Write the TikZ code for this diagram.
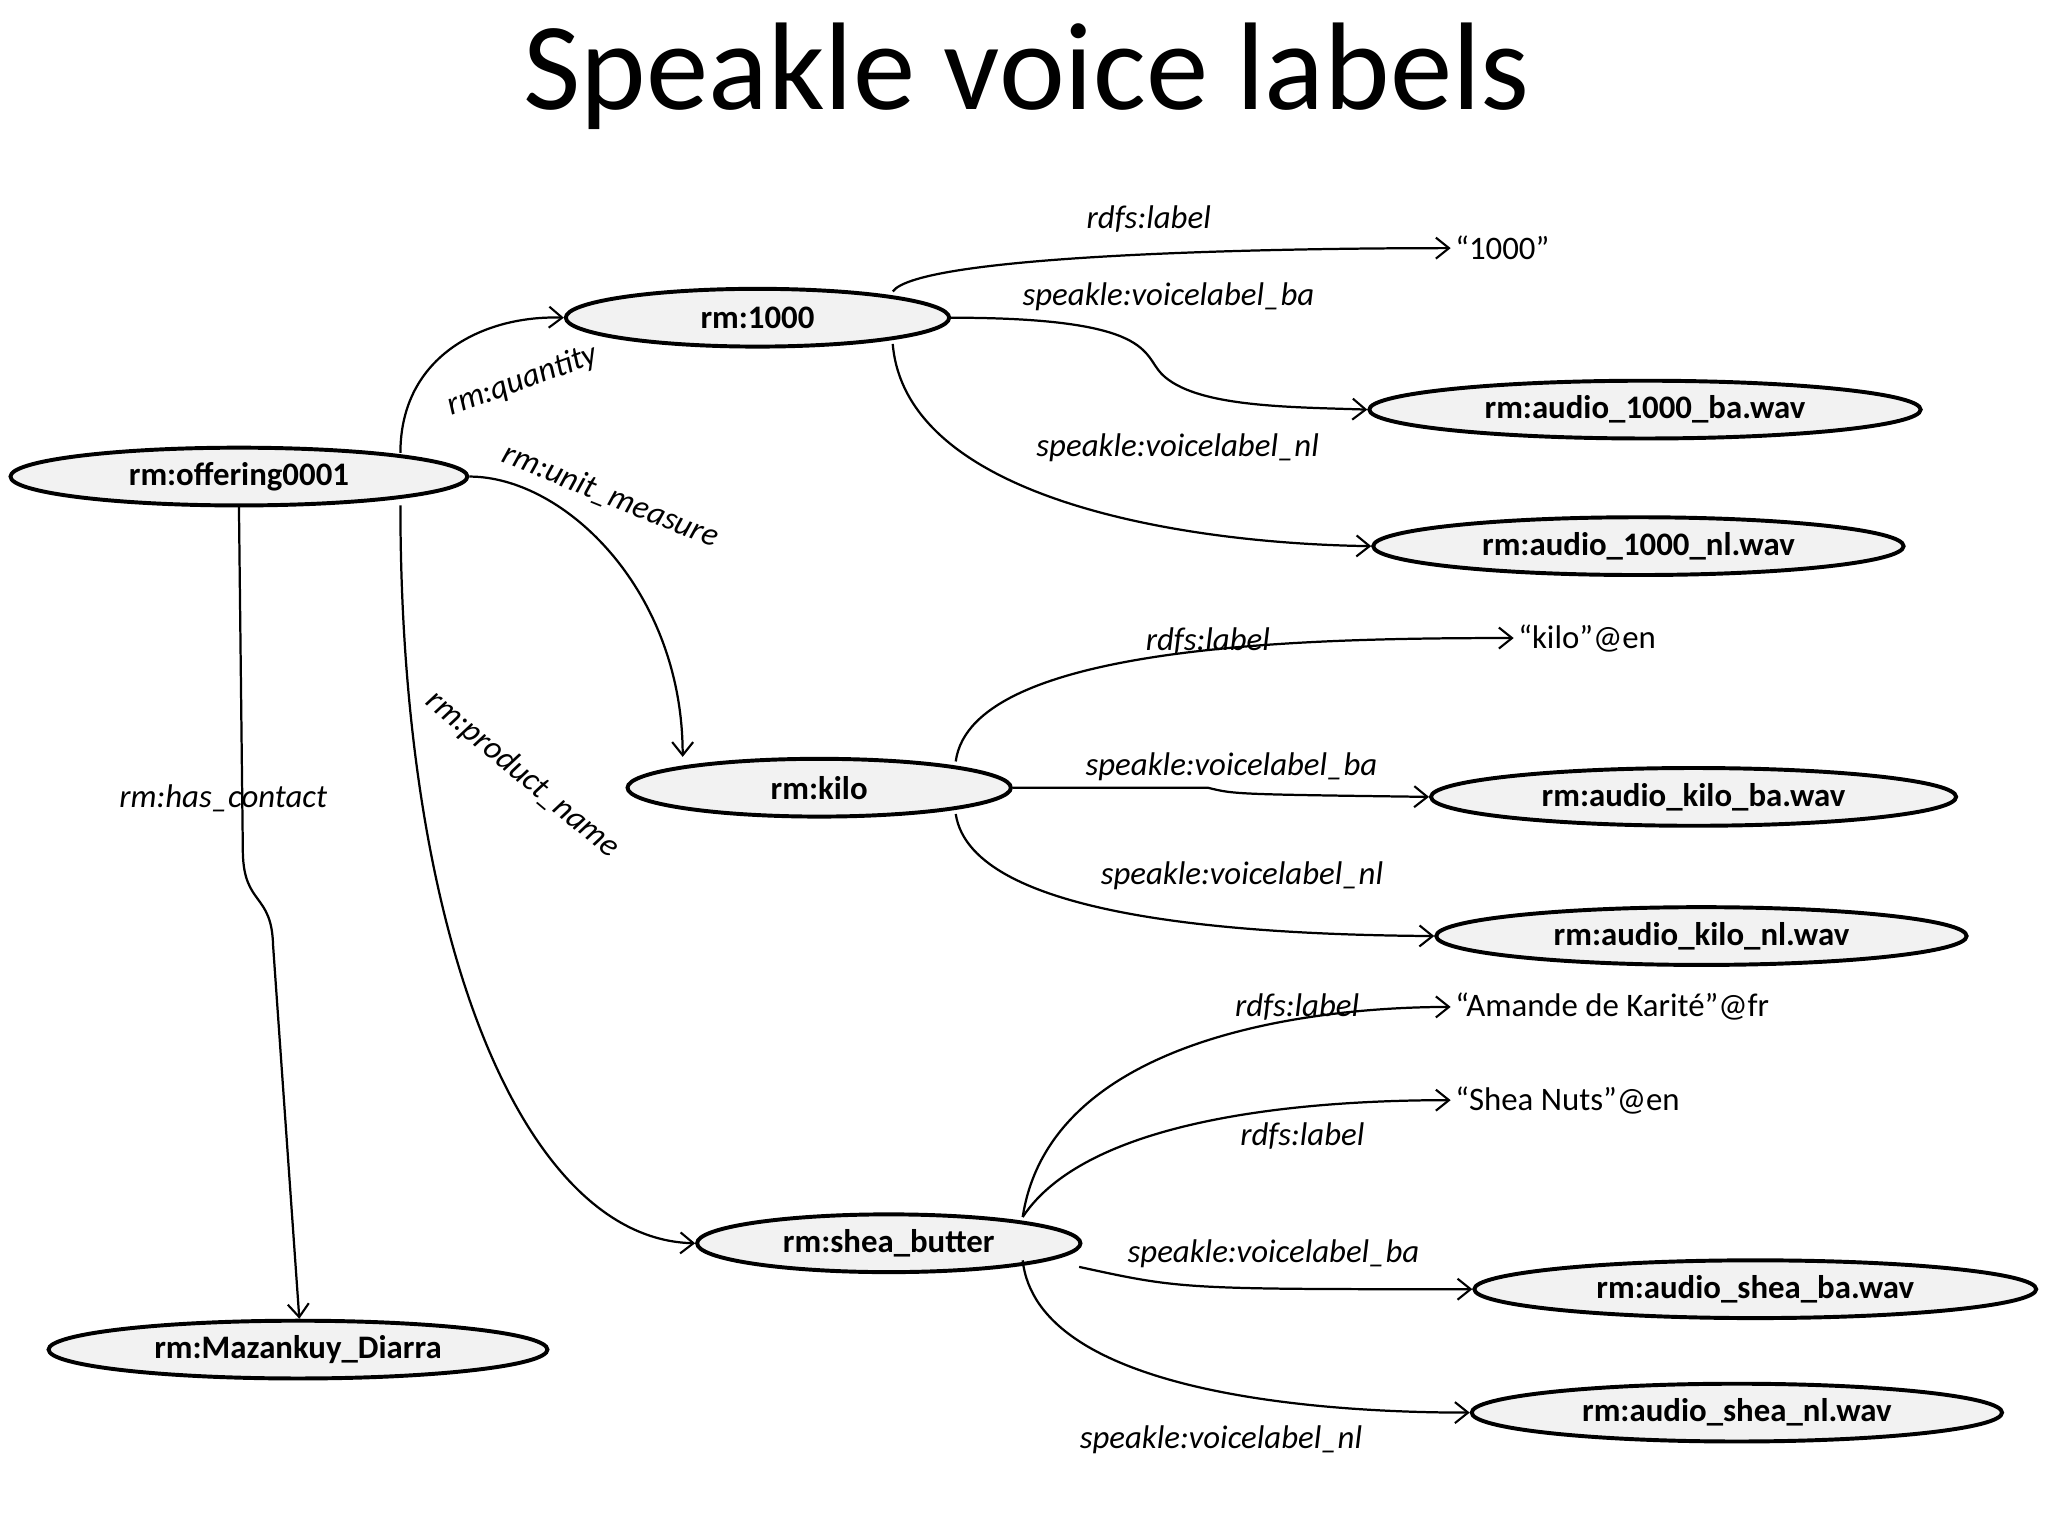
\documentclass[tikz,border=0pt]{standalone}
\usepackage{fontspec}
\setmainfont{Carlito}
\usetikzlibrary{arrows.meta,shapes.geometric}
\begin{document}
\begin{tikzpicture}[x=1pt,y=-1pt,
  res/.style={ellipse,draw,line width=3pt,fill=gray!10,minimum height=44pt,inner sep=0pt,font=\fontsize{25}{28}\selectfont\bfseries},
  lit/.style={font=\fontsize{25}{28}\selectfont,anchor=west},
  lbl/.style={font=\fontsize{25}{28}\selectfont\itshape},
  edge/.style={line width=1.7pt,-{Straight Barb[length=10pt,width=16pt,line width=1.6pt]}}]
\useasboundingbox (0,0) rectangle (1560,1170);
\node[font=\fontsize{95}{100}\selectfont] (title) at (782,58) {Speakle voice labels};
\node[res,minimum width=348pt] (off) at (182,363) {rm:offering0001};
\node[res,minimum width=292pt] (r1000) at (577,242) {rm:1000};
\node[res,minimum width=292pt] (kilo) at (624,600) {rm:kilo};
\node[res,minimum width=292pt] (shea) at (677,947) {rm:shea\_butter};
\node[res,minimum width=380pt] (maz) at (227,1028) {rm:Mazankuy\_Diarra};
\node[res,minimum width=420pt] (a1b) at (1253,312) {rm:audio\_1000\_ba.wav};
\node[res,minimum width=404pt] (a1n) at (1248,416) {rm:audio\_1000\_nl.wav};
\node[res,minimum width=400pt] (akb) at (1290,607) {rm:audio\_kilo\_ba.wav};
\node[res,minimum width=404pt] (akn) at (1296,713) {rm:audio\_kilo\_nl.wav};
\node[res,minimum width=428pt] (asb) at (1337,982) {rm:audio\_shea\_ba.wav};
\node[res,minimum width=404pt] (asn) at (1323,1076) {rm:audio\_shea\_nl.wav};
\node[lit] (l1000) at (1105,189) {“1000”};
\node[lit] (lkilo) at (1153,486) {“kilo”@en};
\node[lit] (lam) at (1105,767) {“Amande de Karité”@fr};
\node[lit] (lsn) at (1105,838) {“Shea Nuts”@en};
\coordinate (c1) at (305,345);
\draw[edge] (c1) .. controls (305,270) and (370,240) .. (r1000.west);
\node[lbl,rotate=20] at (398,290) {rm:quantity};
\draw[edge] (off.east) .. controls (430,363) and (520,450) .. ([xshift=-104pt]kilo.north);
\node[lbl,rotate=-22] at (465,378) {rm:unit\_measure};
\coordinate (c2) at (305,385);
\draw[edge] (c2) .. controls (305,720) and (400,944) .. (shea.west);
\node[lbl,rotate=-40] at (398,590) {rm:product\_name};
\coordinate (c3) at (182,385);
\draw[edge] (c3) -- (185,650) .. controls (186,690) and (207,680) .. (208,720) -- ([xshift=1pt]maz.north);
\node[lbl] at (170,608) {rm:has\_contact};
\coordinate (d1) at (680,222);
\draw[edge] (d1) .. controls (700,195) and (950,189) .. (l1000.west);
\node[lbl] at (875,167) {rdfs:label};
\draw[edge] (r1000.east) .. controls (880,242) and (870,270) .. (885,285) .. controls (910,310) and (980,310) .. (a1b.west);
\node[lbl] at (890,226) {speakle:voicelabel\_ba};
\coordinate (d2) at (680,262);
\draw[edge] (d2) .. controls (690,380) and (900,414) .. (a1n.west);
\node[lbl] at (897,341) {speakle:voicelabel\_nl};
\coordinate (e1) at (728,580);
\draw[edge] (e1) .. controls (740,490) and (1000,486) .. (lkilo.west);
\node[lbl] at (920,488) {rdfs:label};
\draw[edge] (kilo.east) -- (920,600) .. controls (940,605) .. (akb.west);
\node[lbl] at (938,584) {speakle:voicelabel\_ba};
\coordinate (e2) at (728,620);
\draw[edge] (e2) .. controls (740,700) and (950,712) .. (akn.west);
\node[lbl] at (946,667) {speakle:voicelabel\_nl};
\coordinate (f1) at (779,927);
\draw[edge] (f1) .. controls (800,790) and (1000,767) .. (lam.west);
\node[lbl] at (988,767) {rdfs:label};
\draw[edge] (f1) .. controls (830,850) and (1000,838) .. (lsn.west);
\node[lbl] at (992,865) {rdfs:label};
\coordinate (f2) at (822,965);
\draw[edge] (f2) .. controls (900,982) .. (asb.west);
\node[lbl] at (970,955) {speakle:voicelabel\_ba};
\coordinate (f3) at (779,960);
\draw[edge] (f3) .. controls (790,1060) and (1000,1076) .. (asn.west);
\node[lbl] at (930,1097) {speakle:voicelabel\_nl};
\end{tikzpicture}
\end{document}
